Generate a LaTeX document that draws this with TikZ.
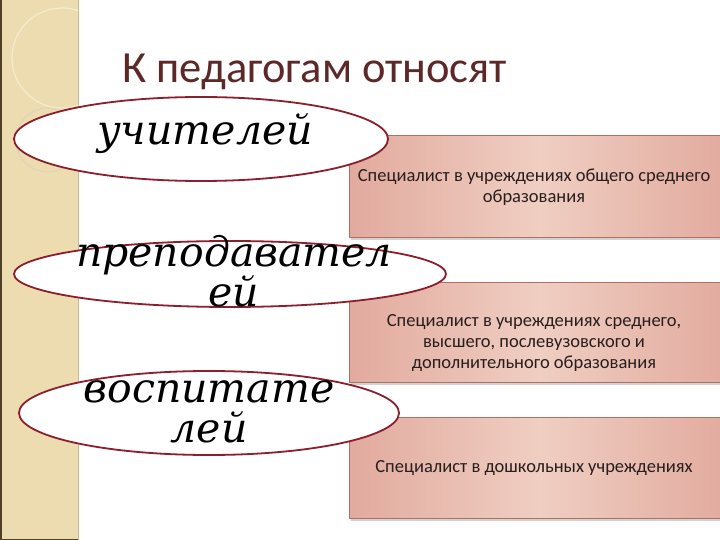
\documentclass[tikz,border=0pt]{standalone}
\usepackage{fontspec}
\setmainfont{Carlito}
\newfontfamily\hand{DejaVu Serif}
\usetikzlibrary{shapes.geometric}
\definecolor{stripe}{RGB}{236,220,176}
\definecolor{stripeline}{RGB}{200,184,150}
\definecolor{frame}{RGB}{80,64,40}
\definecolor{titlec}{RGB}{92,40,40}
\definecolor{ellc}{RGB}{140,30,45}
\definecolor{boxedge}{RGB}{226,170,158}
\definecolor{boxmid}{RGB}{240,206,194}
\definecolor{boxline}{RGB}{176,112,96}
\definecolor{boxtext}{RGB}{40,30,30}
\tikzset{
  ell/.style={draw=ellc, line width=1.8pt, fill=white, ellipse, inner sep=0pt},
  pinkbox/.style={draw=boxline, line width=0.8pt, left color=boxedge, right color=boxedge, middle color=boxmid, anchor=north west, inner sep=0pt},
  boxshadow/.style={fill=black!35, opacity=0.5, anchor=north west, inner sep=0pt},
  handtext/.style={font=\hand\itshape\fontsize{41}{40}\selectfont, align=center, inner sep=0pt},
  boxtxt/.style={font=\fontsize{18.5}{21}\selectfont, text=boxtext, align=center, inner sep=0pt}
}
\begin{document}
\begin{tikzpicture}[x=1pt,y=-1pt]
\useasboundingbox (0,0) rectangle (720,540);
\clip (0,0) rectangle (720,540);
\fill[white] (0,0) rectangle (720,540);
% left stripe
\fill[stripe] (0,0) rectangle (78,540);
\draw[stripeline, line width=1pt] (78.5,0) -- (78.5,540);
\draw[frame, line width=1.5pt] (0.75,0) -- (0.75,539.25) -- (78,539.25);
\draw[white, opacity=0.45, line width=1.2pt] (62,58) circle (50);
\draw[black!20, opacity=0.5, line width=1pt] (48,140) circle (32);
% title
\node[font=\fontsize{44.5}{52}\selectfont, text=titlec, anchor=base west, inner sep=0pt] (title) at (122,83) {К педагогам относят};
% boxes
\node[boxshadow, minimum width=380, minimum height=102] (s1) at (351,137.5) {};
\node[pinkbox, minimum width=380, minimum height=102] (r1) at (349,135) {};
\node[boxshadow, minimum width=380, minimum height=100] (s2) at (351,284.5) {};
\node[pinkbox, minimum width=380, minimum height=100] (r2) at (349,282) {};
\node[boxshadow, minimum width=380, minimum height=101] (s3) at (351,419.5) {};
\node[pinkbox, minimum width=380, minimum height=101] (r3) at (349,417) {};
\node[boxtxt] (b1) at (534,187) {Специалист в учреждениях общего среднего\\образования};
\node[boxtxt] (b2) at (534,343) {Специалист в учреждениях среднего,\\высшего, послевузовского и\\дополнительного образования};
\node[boxtxt] (b3) at (534,468) {Специалист в дошкольных учреждениях};
% ellipses
\node[ell, minimum width=374, minimum height=84] (e1) at (201,139) {};
\node[ell, minimum width=432, minimum height=66] (e2) at (230,274) {};
\node[ell, minimum width=380, minimum height=84] (e3) at (209,413) {};
\node[handtext, anchor=base] (t1) at (205,145) {учителей};
\node[handtext, anchor=base] (t2) at (234,306) {преподавател\\ей};
\node[handtext, anchor=base] (t3) at (209,442) {воспитате\\лей};
\end{tikzpicture}
\end{document}
